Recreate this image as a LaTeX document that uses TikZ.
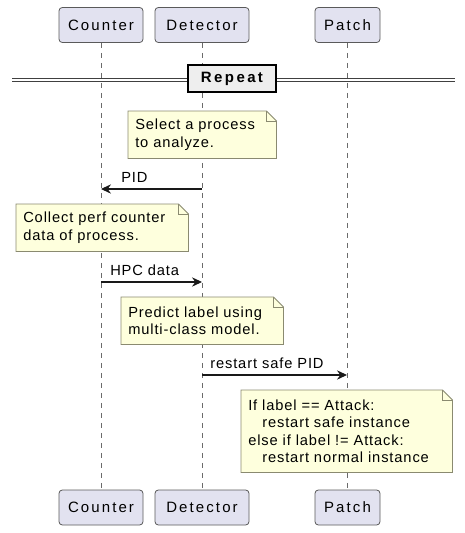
\documentclass[tikz,border=0pt]{standalone}
\usepackage{fontspec}
\setmainfont{Liberation Sans}
\newfontfamily\hdfont[LetterSpace=14]{Liberation Sans}
\newfontfamily\grfont[LetterSpace=16]{Liberation Sans}
\newfontfamily\txfont[LetterSpace=6]{Liberation Sans}
\usetikzlibrary{arrows.meta}
\definecolor{partfill}{HTML}{E2E2F0}
\definecolor{partline}{HTML}{5A5A5A}
\definecolor{notefill}{HTML}{FEFFDD}
\definecolor{noteline}{HTML}{8A8A70}
\definecolor{grpfill}{HTML}{EEEEEE}
\definecolor{lifecol}{HTML}{6A6A6A}
\begin{document}
\begin{tikzpicture}[x=0.75pt,y=-0.75pt,
  part/.style={draw=partline,fill=partfill,line width=0.6pt,rounded corners=2.5pt,
    minimum height=26.25pt,inner sep=0pt,font=\hdfont\fontsize{11.25pt}{13pt}\selectfont},
  lifeline/.style={draw=lifecol,line width=0.6pt,dash pattern=on 3.75pt off 3.75pt},
  notebox/.style={fill=notefill,anchor=north west,inner xsep=5.25pt,inner ysep=0pt,
    align=left,font=\txfont\fontsize{11pt}{13pt}\selectfont},
  noteedge/.style={draw=noteline,line width=0.6pt},
  msg/.style={draw=black!90,line width=0.8pt,-{Stealth[length=7.5pt,width=7pt,inset=2.5pt]}},
  msglabel/.style={anchor=base west,inner sep=0pt,font=\txfont\fontsize{11pt}{13pt}\selectfont},
  grpline/.style={draw=black!75,line width=0.75pt},
  grpbox/.style={draw=black,fill=grpfill,line width=1.6pt,minimum width=66pt,minimum height=20.25pt,
    inner sep=0pt,font=\bfseries\grfont\fontsize{11.25pt}{13pt}\selectfont}
]
\useasboundingbox (0,0) rectangle (465,533);

% participants
\node[part,minimum width=63pt] (ct) at (101,25) {Counter};
\node[part,minimum width=70.5pt] (dt) at (202,25) {Detector};
\node[part,minimum width=48.75pt] (pt) at (347.5,25) {Patch};
\node[part,minimum width=63pt] (cb) at (101,507.5) {Counter};
\node[part,minimum width=70.5pt] (db) at (202,507.5) {Detector};
\node[part,minimum width=48.75pt] (pb) at (347.5,507.5) {Patch};

% lifelines
\draw[lifeline] (ct.south) -- (cb.north);
\draw[lifeline] (dt.south) -- (db.north);
\draw[lifeline] (pt.south) -- (pb.north);

% repeat divider
\coordinate (gl) at (12,78);
\coordinate (gr) at (455,78);
\coordinate (gl2) at (12,81.6);
\coordinate (gr2) at (455,81.6);
\draw[grpline] (gl) -- (gr);
\draw[grpline] (gl2) -- (gr2);
\node[grpbox] (rep) at (232,78.8) {Repeat};

% notes
\newcommand\foldit[1]{%
  \fill[white] ([xshift=-7.5pt]#1.north east) -- (#1.north east) -- ([yshift=-7.5pt]#1.north east) -- cycle;
  \draw[noteedge] (#1.north west) -- ([xshift=-7.5pt]#1.north east) -- ([yshift=-7.5pt]#1.north east)
     -- (#1.south east) -- (#1.south west) -- cycle;
  \draw[noteedge] ([xshift=-7.5pt]#1.north east) -- ([xshift=-7.5pt,yshift=-7.5pt]#1.north east) -- ([yshift=-7.5pt]#1.north east);}

\node[notebox,text width=100.5pt,minimum height=35.25pt] (n1) at (128,111) {Select a process\\to analyze.};
\foldit{n1}

\coordinate (m1s) at (202,189);
\coordinate (m1e) at (101,189);
\draw[msg] (m1s) -- (m1e);
\node[msglabel] (l1) at (121,182) {PID};

\node[notebox,text width=118.5pt,minimum height=35.25pt] (n2) at (16,204) {Collect perf counter\\data of process.};
\foldit{n2}

\coordinate (m2s) at (101,282);
\coordinate (m2e) at (202,282);
\draw[msg] (m2s) -- (m2e);
\node[msglabel] (l2) at (110,275) {HPC data};

\node[notebox,text width=111pt,minimum height=35.25pt] (n3) at (121,297) {Predict label using\\multi-class model.};
\foldit{n3}

\coordinate (m3s) at (202,375);
\coordinate (m3e) at (347,375);
\draw[msg] (m3s) -- (m3e);
\node[msglabel] (l3) at (210,368) {restart safe PID};

\node[notebox,text width=147.75pt,minimum height=61.5pt] (n4) at (241,390)
  {If label == Attack:\\\hspace*{10.5pt}restart safe instance\\else if label != Attack:\\\hspace*{10.5pt}restart normal instance};
\foldit{n4}
\end{tikzpicture}
\end{document}
